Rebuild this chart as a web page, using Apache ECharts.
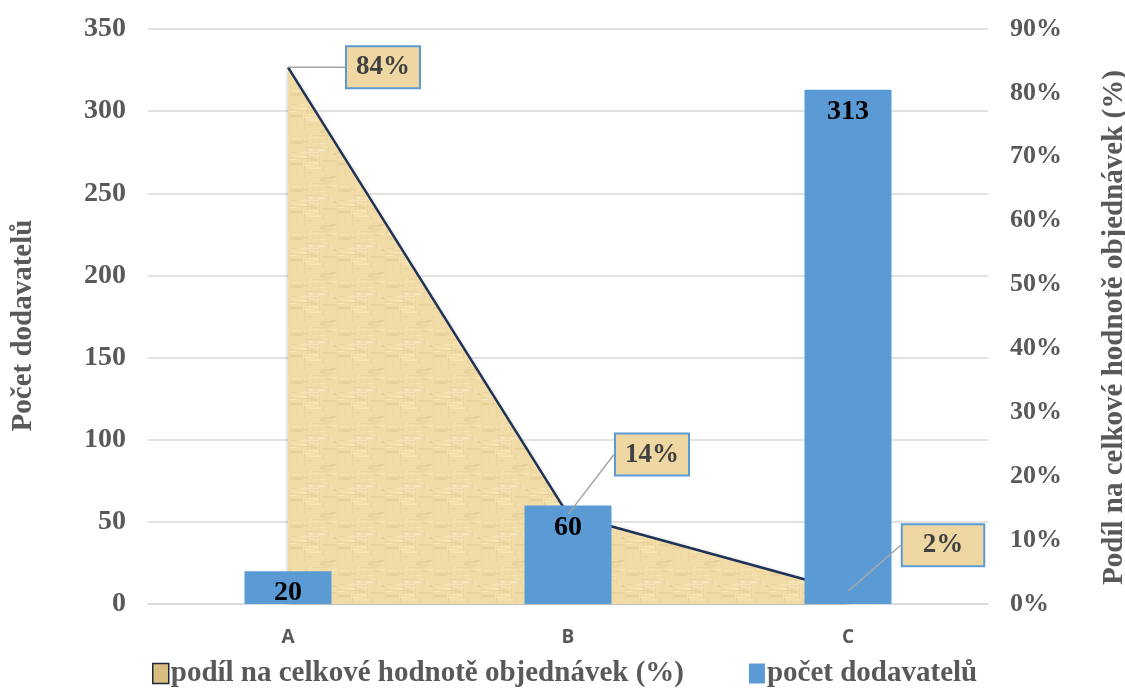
<!DOCTYPE html>
<html><head><meta charset="utf-8">
<script src="https://cdn.jsdelivr.net/npm/echarts@6/dist/echarts.min.js"></script>
<style>html,body{margin:0;padding:0;background:#fff}#c{width:1125px;height:693px}</style>
</head><body><div id="c"></div>
<script>
const categories = ['A', 'B', 'C'];
const supplierCounts = [20, 60, 313];
const orderSharePct = [84, 14, 2];
const leftTicks = {min: 0, max: 350, interval: 50};
const rightTicks = {min: 0, max: 90, interval: 10};

// label placement styling (offsets from the point, box padding)
const labelOffsets = [[95, 0], [84, -60], [95, -46]];
const labelPads = [[8, 9, 5, 9], [8, 9, 5, 9], [8, 20, 5, 20]];

// papyrus-like texture
function makeTexture() {
  const c = document.createElement('canvas');
  c.width = 48; c.height = 48;
  const g = c.getContext('2d');
  g.fillStyle = '#f1dba6';
  g.fillRect(0, 0, 48, 48);
  let s = 7;
  function r() { s = (s * 9301 + 49297) % 233280; return s / 233280; }
  for (let i = 0; i < 40; i++) {
    g.fillStyle = r() > 0.5 ? 'rgba(255,245,215,0.35)' : 'rgba(200,170,110,0.2)';
    g.fillRect(Math.floor(r() * 48), Math.floor(r() * 48), 1 + Math.floor(r() * 18), 1 + Math.floor(r() * 2));
  }
  for (let i = 0; i < 20; i++) {
    g.fillStyle = 'rgba(205,175,115,0.16)';
    g.fillRect(Math.floor(r() * 48), Math.floor(r() * 48), 1, 2 + Math.floor(r() * 14));
  }
  return c;
}
const tex = {image: makeTexture(), repeat: 'repeat'};

const serif = '"Liberation Serif", "Times New Roman", serif';
const chart = echarts.init(document.getElementById('c'));

const shareName = 'podíl na celkové hodnotě objednávek (%)';
const countName = 'počet dodavatelů';
const shareLabelData = orderSharePct.map((v, i) => ({value: v, label: {padding: labelPads[i]}}));

chart.setOption({
  animation: false,
  grid: {left: 148, right: 137, top: 29, bottom: 89, outerBoundsMode: 'none', containLabel: false},
  legend: {
    bottom: 0, left: 147, itemGap: 65, itemWidth: 16, itemHeight: 20,
    textStyle: {fontFamily: serif, fontWeight: 'bold', fontSize: 29, color: '#595959', padding: [0, 0, 0, -3]},
    data: [
      {name: shareName, icon: 'rect',
        itemStyle: {color: '#d9bd80', borderColor: '#1f2a3a', borderWidth: 1.5}},
      {name: countName, icon: 'rect', itemStyle: {color: '#5b9bd5'}}
    ]
  },
  xAxis: {
    type: 'category', data: categories,
    axisLine: {lineStyle: {color: '#d9d9d9', width: 1.5}},
    axisTick: {show: false},
    axisLabel: {margin: 24, fontFamily: '"Open Sans", sans-serif', fontWeight: 'bold', fontSize: 19, color: '#595959'}
  },
  yAxis: [
    {
      type: 'value', min: leftTicks.min, max: leftTicks.max, interval: leftTicks.interval,
      name: 'Počet dodavatelů', nameLocation: 'middle', nameGap: 110,
      nameTextStyle: {fontFamily: serif, fontWeight: 'bold', fontSize: 29, color: '#595959', padding: [0, 18, 0, 0]},
      axisLabel: {margin: 22, fontFamily: serif, fontWeight: 'bold', fontSize: 28, color: '#595959'},
      splitLine: {lineStyle: {color: '#d9d9d9', width: 1.5}},
      axisLine: {show: false}, axisTick: {show: false}
    },
    {
      type: 'value', min: rightTicks.min, max: rightTicks.max, interval: rightTicks.interval,
      name: 'Podíl na celkové hodnotě objednávek (%)', nameLocation: 'middle', nameGap: 112,
      nameTextStyle: {fontFamily: serif, fontWeight: 'bold', fontSize: 29, color: '#595959', padding: [0, 22, 0, 0]},
      axisLabel: {margin: 22, formatter: '{value}%', fontFamily: serif, fontWeight: 'bold', fontSize: 26, color: '#595959'},
      splitLine: {show: false},
      axisLine: {show: false}, axisTick: {show: false}
    }
  ],
  series: [
    {
      name: shareName, type: 'line', yAxisIndex: 1,
      data: orderSharePct, symbol: 'none', z: 1,
      lineStyle: {color: '#1f3257', width: 2.5},
      itemStyle: {color: '#1f3257'},
      areaStyle: {color: tex, opacity: 1, shadowColor: 'rgba(60,50,30,0.35)', shadowBlur: 4}
    },
    {
      name: countName, type: 'bar', yAxisIndex: 0,
      data: supplierCounts, barWidth: 87, z: 3,
      itemStyle: {color: '#5b9bd5'},
      label: {
        show: true, position: 'insideTop', distance: 8,
        fontFamily: serif, fontWeight: 'bold', fontSize: 28, color: '#000'
      }
    },
    {
      name: shareName + ' labels', type: 'line', yAxisIndex: 1,
      data: shareLabelData, symbol: 'circle', symbolSize: 1, showSymbol: true, z: 6,
      lineStyle: {color: 'rgba(0,0,0,0)', width: 0}, itemStyle: {color: 'rgba(0,0,0,0)'},
      silent: true, tooltip: {show: false},
      label: {
        show: true, position: 'inside', formatter: '{c}%',
        fontFamily: serif, fontWeight: 'bold', fontSize: 27, color: '#404040',
        backgroundColor: '#eed7a2', borderColor: '#5b9bd5', borderWidth: 2,
        padding: [8, 9, 5, 9]
      },
      labelLine: {show: true, lineStyle: {color: '#a6a6a6', width: 1.5}},
      labelLayout: function (p) {
        const o = labelOffsets[p.dataIndex];
        return {dx: o[0], dy: o[1]};
      }
    }
  ]
});
</script></body></html>
